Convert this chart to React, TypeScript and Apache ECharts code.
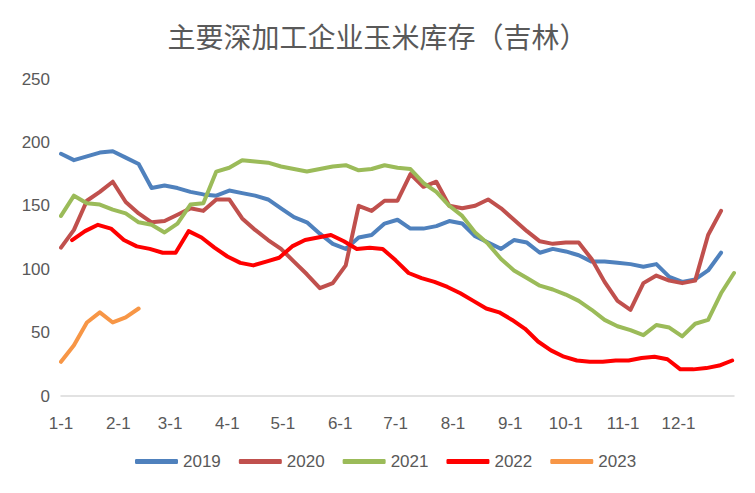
import React, { useEffect, useRef } from "react";
import * as echarts from "echarts";

const TITLE = "主要深加工企业玉米库存（吉林）";
const MONTH_DAYS = [31, 28, 31, 30, 31, 30, 31, 31, 30, 31, 30, 31];
const dayLabels: string[] = MONTH_DAYS.flatMap((n, m) =>
  Array.from({ length: n }, (_, d) => `${m + 1}-${d + 1}`)
);

const seriesNames = ["2019", "2020", "2021", "2022", "2023"];
const seriesColors = ["#4F81BD", "#C0504D", "#9BBB59", "#FF0000", "#F79646"];
// first day index (0 = 1-1) of each weekly series
const seriesStart = [0, 0, 0, 6, 0];

const v2019 = [
  191, 186, 189, 192, 193, 188, 183, 164, 166, 164, 161, 159, 158, 162, 160, 158,
  155, 148, 141, 137, 128, 120, 116, 125, 127, 136, 139, 132, 132, 134, 138, 136,
  126, 121, 116, 123, 121, 113, 116, 114, 111, 106, 106, 105, 104, 102, 104, 94,
  90, 92, 99, 113,
];
const v2020 = [
  117, 131, 154, 161, 169, 153, 144, 137, 138, 143, 148, 146, 155, 155, 140, 131,
  123, 116, 106, 96, 85, 89, 103, 150, 146, 154, 154, 175, 165, 169, 150, 148,
  150, 155, 148, 139, 130, 122, 120, 121, 121, 108, 90, 75, 68, 89, 95, 91,
  89, 91, 127, 146,
];
const v2021 = [
  142, 158, 152, 151, 147, 144, 137, 135, 129, 136, 151, 152, 177, 180, 186, 185,
  184, 181, 179, 177, 179, 181, 182, 178, 179, 182, 180, 179, 168, 161, 150, 142,
  129, 120, 108, 99, 93, 87, 84, 80, 75, 68, 60, 55, 52, 48, 56, 54,
  47, 57, 60, 81, 97,
];
const v2022 = [
  123, 130, 135, 132, 123, 118, 116, 113, 113, 130, 125, 117, 110, 105, 103, 106,
  109, 118, 123, 125, 127, 122, 116, 117, 116, 107, 97, 93, 90, 86, 81, 75,
  69, 66, 60, 53, 43, 36, 31, 28, 27, 27, 28, 28, 30, 31, 29, 21,
  21, 22, 24, 28,
];
const v2023 = [27, 40, 58, 66, 58, 62, 69];

const seriesValues = [v2019, v2020, v2021, v2022, v2023];

const yTicks = { min: 0, max: 250, interval: 50 };

const TEXT = "#595959";
const FONT = "'Liberation Sans', Arial, sans-serif";

export default function App() {
  const ref = useRef<HTMLDivElement>(null);
  useEffect(() => {
    if (!ref.current) return;
    const chart = echarts.init(ref.current, undefined, { renderer: "svg" });
    chart.setOption({
      animation: false,
      backgroundColor: "#ffffff",
      title: {
        text: TITLE,
        left: "center",
        top: 17,
        textStyle: {
          color: TEXT,
          fontSize: 28,
          fontWeight: "normal",
          fontFamily: "'Noto Sans CJK SC', sans-serif",
        },
      },
      grid: { left: 61, right: 21, top: 79, bottom: 97 },
      legend: {
        bottom: 18,
        left: 130,
        data: seriesNames,
        icon: "roundRect",
        itemWidth: 43,
        itemHeight: 5,
        itemGap: 18,
        textStyle: { color: TEXT, fontSize: 17, fontFamily: FONT },
      },
      xAxis: {
        type: "category",
        data: dayLabels,
        boundaryGap: false,
        axisLine: { show: true, lineStyle: { color: "#D9D9D9", width: 1.5 } },
        axisTick: { show: false },
        splitLine: { show: false },
        axisLabel: {
          interval: (_i: number, value: string) => value.split("-")[1] === "1",
          color: TEXT,
          fontSize: 17,
          fontFamily: FONT,
          margin: 19,
        },
      },
      yAxis: {
        type: "value",
        min: yTicks.min,
        max: yTicks.max,
        interval: yTicks.interval,
        axisLine: { show: false },
        axisTick: { show: false },
        splitLine: { show: false },
        axisLabel: { color: TEXT, fontSize: 17, fontFamily: FONT, margin: 11 },
      },
      series: seriesNames.map((name, k) => ({
        name,
        type: "line",
        symbol: "none",
        showSymbol: false,
        color: seriesColors[k],
        lineStyle: { width: 4, color: seriesColors[k], cap: "round", join: "round" },
        data: seriesValues[k].map((v, i) => [seriesStart[k] + 7 * i, v]),
      })),
    });
    return () => chart.dispose();
  }, []);
  return (
    <div
      ref={ref}
      style={{ position: "fixed", left: 0, top: 0, width: 755, height: 493 }}
    />
  );
}
